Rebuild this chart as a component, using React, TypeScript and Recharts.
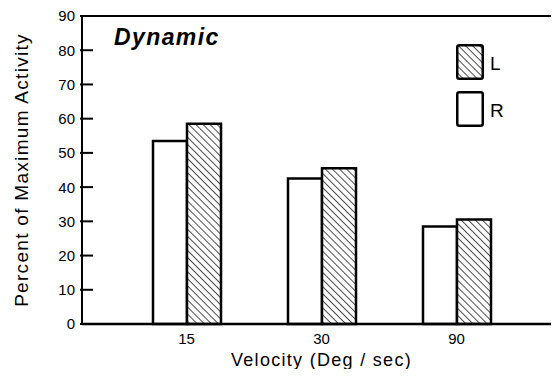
import { BarChart, Bar, XAxis, YAxis, Legend, ReferenceLine } from "recharts"

const velocities = ["15", "30", "90"]
const rightSide = [53.5, 42.5, 28.5]
const leftSide = [58.5, 45.5, 30.5]
const yTicks = [0, 10, 20, 30, 40, 50, 60, 70, 80, 90]

const data = velocities.map((v, i) => ({ velocity: v, R: rightSide[i], L: leftSide[i] }))

const FONT = "'Liberation Sans', Arial, sans-serif"

const fills: Record<string, string> = { L: "url(#hatch)", R: "#fff" }

// ticks point into the plot, numbers sit outside
const LeftTick = (props: any) => {
  const { x, y, payload } = props
  return (
    <g>
      <line x1={x} x2={x + 13} y1={y} y2={y} stroke="#000" strokeWidth={2} />
      <text x={x - 5} y={y} dy="0.36em" textAnchor="end" fontSize={15} fontFamily={FONT} fill="#000">
        {payload.value}
      </text>
    </g>
  )
}

const RightTick = (props: any) => {
  const { x, y } = props
  return <line x1={x - 12} x2={x} y1={y} y2={y} stroke="#000" strokeWidth={2} />
}

const KeyBox = (props: any) => {
  const items = [...(props.payload || [])].sort((a: any, b: any) => String(a.value).localeCompare(String(b.value)))
  return (
    <div>
      {items.map((item: any) => (
        <div key={item.value} style={{ display: "flex", alignItems: "flex-end", height: 36, marginBottom: 11 }}>
          <svg width={28} height={36}>
            <rect x={1.25} y={1.25} width={25.5} height={33.5} rx={2} fill={fills[item.value]} stroke="#000" strokeWidth={2.5} />
          </svg>
          <span style={{ fontFamily: FONT, fontSize: 19, marginLeft: 6, lineHeight: "19px", paddingBottom: 7 }}>{item.value}</span>
        </div>
      ))}
    </div>
  )
}

export default function App() {
  return (
    <div style={{ margin: -8, width: 559, height: 377, overflow: "hidden", position: "relative", background: "#fff" }}>
      <BarChart
        width={575}
        height={377}
        data={data}
        margin={{ top: 16, right: 0, bottom: 0, left: 0 }}
        barSize={34}
        barGap={0}
      >
        <defs>
          <pattern id="hatch" width={5} height={5} patternUnits="userSpaceOnUse" patternTransform="rotate(-45)">
            <rect width={5} height={5} fill="#fff" />
            <line x1={0} y1={0} x2={0} y2={5} stroke="#000" strokeWidth={1.4} />
          </pattern>
        </defs>
        <XAxis
          dataKey="velocity"
          height={53}
          padding={{ left: 37, right: 37 }}
          axisLine={{ stroke: "#000", strokeWidth: 2.5 }}
          tickLine={false}
          tickMargin={3}
          tick={{ fill: "#000", fontSize: 15, fontFamily: FONT }}
          label={{
            value: "Velocity (Deg / sec)",
            position: "insideBottom",
            offset: 11,
            style: { fill: "#000", fontSize: 18, fontFamily: FONT, letterSpacing: 1.3 },
          }}
        />
        <YAxis
          yAxisId="left"
          width={82}
          domain={[0, 90]}
          ticks={yTicks}
          interval={0}
          tickSize={0}
          tickLine={false}
          axisLine={{ stroke: "#000", strokeWidth: 2 }}
          tick={<LeftTick />}
          label={{
            value: "Percent of Maximum Activity",
            angle: -90,
            position: "insideLeft",
            offset: 21,
            style: { textAnchor: "middle", fill: "#000", fontSize: 19, fontFamily: FONT, letterSpacing: 1.3 },
          }}
        />
        <YAxis
          yAxisId="right"
          orientation="right"
          width={14}
          domain={[0, 90]}
          ticks={yTicks}
          interval={0}
          tickSize={0}
          tickLine={false}
          axisLine={{ stroke: "#000", strokeWidth: 2 }}
          tick={<RightTick />}
        />
        <ReferenceLine yAxisId="left" y={90} stroke="#000" strokeWidth={2} />
        <Legend
          layout="vertical"
          align="center"
          verticalAlign="middle"
          content={<KeyBox />}
          wrapperStyle={{ left: 456, top: 44, width: 60, height: 90 }}
        />
        <Bar yAxisId="left" dataKey="R" name="R" fill={fills.R} stroke="#000" strokeWidth={2.5} isAnimationActive={false} />
        <Bar yAxisId="left" dataKey="L" name="L" fill={fills.L} stroke="#000" strokeWidth={2.5} isAnimationActive={false} />
      </BarChart>
      <div
        style={{
          position: "absolute",
          left: 114,
          top: 24,
          fontFamily: FONT,
          fontStyle: "italic",
          fontWeight: "bold",
          fontSize: 23,
          letterSpacing: 1.4,
          color: "#000",
        }}
      >
        Dynamic
      </div>
    </div>
  )
}
